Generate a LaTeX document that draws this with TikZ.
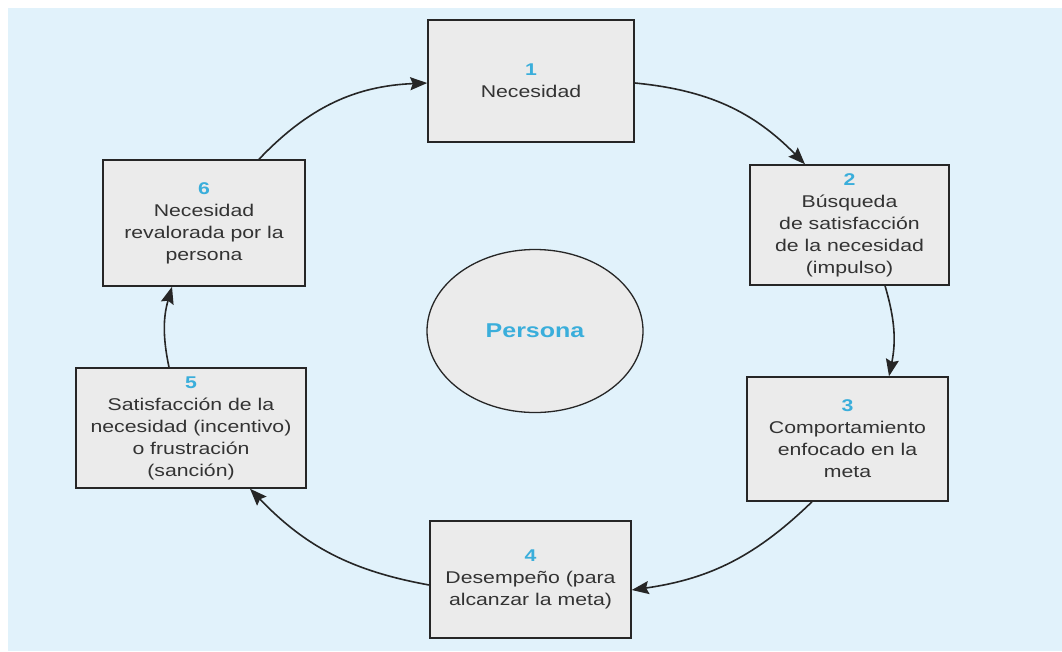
\documentclass[tikz,border=0pt]{standalone}
\usepackage{fontspec}
\setmainfont{Liberation Sans}[FakeStretch=1.25]
\usetikzlibrary{arrows.meta,shapes.geometric}
\definecolor{bg}{HTML}{E1F2FB}
\definecolor{boxfill}{HTML}{EBEBEB}
\definecolor{numc}{HTML}{3AAEDB}
\definecolor{txt}{HTML}{333333}
\definecolor{edge}{HTML}{262626}
\newcommand{\stnum}[1]{\textcolor{numc}{\textbf{#1}}}
\begin{document}
\begin{tikzpicture}[x=1pt,y=-1pt,
  stage/.style={draw=edge, line width=1.5pt, fill=boxfill, align=center, text=txt,
    font=\fontsize{17}{22}\selectfont, inner sep=0pt},
  flow/.style={-{Stealth[length=17pt,width=13pt,inset=2.5pt]}, line width=1.6pt, draw=edge},
]
\useasboundingbox (0,0) rectangle (1062,651);
\fill[bg] (8,8) rectangle (1062,651);

\node[stage, minimum width=206pt, minimum height=122pt] (b1) at (531,81)
  {\stnum{1}\\Necesidad};
\node[stage, minimum width=199pt, minimum height=120pt] (b2) at (849.5,225)
  {\stnum{2}\\Búsqueda\\de satisfacción\\de la necesidad\\(impulso)};
\node[stage, minimum width=201pt, minimum height=124pt] (b3) at (847.5,439)
  {\stnum{3}\\Comportamiento\\enfocado en la\\meta};
\node[stage, minimum width=201pt, minimum height=117pt] (b4) at (530.5,579.5)
  {\stnum{4}\\Desempeño (para\\alcanzar la meta)};
\node[stage, minimum width=230pt, minimum height=120pt] (b5) at (191,428)
  {\stnum{5}\\Satisfacción de la\\necesidad (incentivo)\\o frustración\\(sanción)};
\node[stage, minimum width=202pt, minimum height=126pt] (b6) at (204,223)
  {\stnum{6}\\Necesidad\\revalorada por la\\persona};

\node[ellipse, draw=edge, line width=1.3pt, fill=boxfill, minimum width=216pt,
  minimum height=163pt, text=numc, font=\fontsize{20}{24}\selectfont\bfseries]
  (p) at (535,331) {Persona};

\draw[flow] ([xshift=55pt]b6.north) to[bend left=22] ([yshift=-2pt]b1.west);
\draw[flow] ([yshift=-2pt]b1.east) to[bend left=20] ([xshift=-44.5pt]b2.north);
\draw[flow] ([xshift=35.5pt]b2.south) to[bend left=14] ([xshift=41.5pt]b3.north);
\draw[flow] ([xshift=-35.5pt]b3.south) to[bend left=18] ([yshift=-10.5pt]b4.east);
\draw[flow] ([yshift=-5.5pt]b4.west) to[bend left=18] ([xshift=59pt]b5.south);
\draw[flow] ([xshift=-22pt]b5.north) to[bend left=14] ([xshift=-32pt]b6.south);
\end{tikzpicture}
\end{document}
